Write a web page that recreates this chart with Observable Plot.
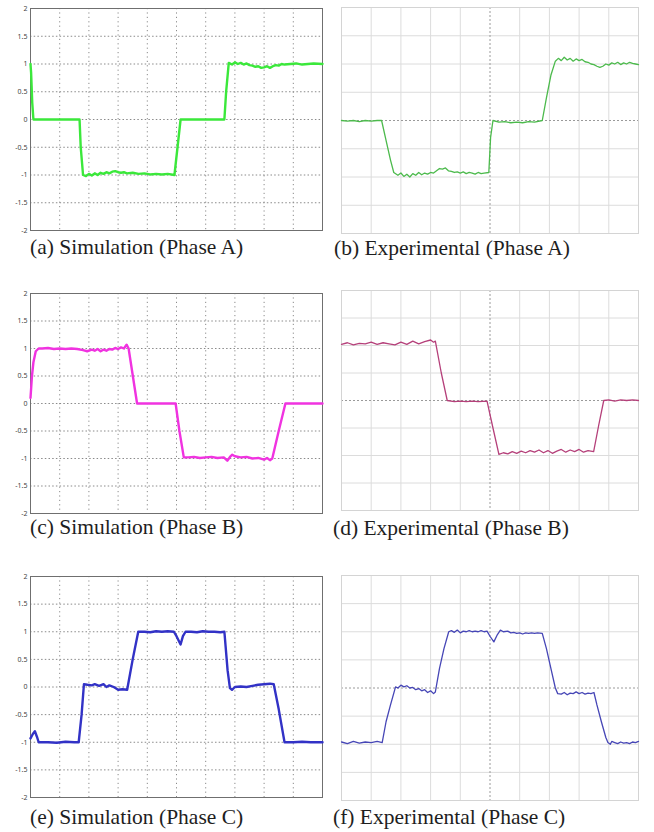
<!DOCTYPE html>
<html>
<head>
<meta charset="utf-8">
<script src="https://cdn.jsdelivr.net/npm/d3@7"></script>
<script src="https://cdn.jsdelivr.net/npm/@observablehq/plot@0.6"></script>
<style>
  html, body { margin: 0; padding: 0; background: #fff; }
  #root { position: relative; width: 654px; height: 832px; background: #fff; overflow: hidden; }
  .panel { position: absolute; }
  .panel svg { display: block; background: transparent; }
  .cap { position: absolute; font-family: "Liberation Serif", "Times New Roman", serif; font-size: 21.5px; color: #1e1e1e; white-space: nowrap; line-height: 1; }
</style>
</head>
<body>
<div id="root"></div>
<script>
// ---------- data ----------
const captions = ["(a) Simulation (Phase A)", "(b) Experimental (Phase A)", "(c) Simulation (Phase B)", "(d) Experimental (Phase B)", "(e) Simulation (Phase C)", "(f) Experimental (Phase C)"];
const yTickValues = [2, 1.5, 1, 0.5, 0, -0.5, -1, -1.5, -2];
const yTickLabels = ["2", "1.5", "1", "0.5", "0", "-0.5", "-1", "-1.5", "-2"];
const xGridValues = [1, 2, 3, 4, 5, 6, 7, 8, 9];
const yGridValues = [1.5, 1, 0.5, 0, -0.5, -1, -1.5];

const simA_t = [0, 0.02, 0.06, 0.1, 0.15, 1.68, 1.72, 1.8, 1.9, 2.0, 2.1, 2.2, 2.3, 2.4, 2.5, 2.6, 2.7, 2.8, 2.9, 3.0, 3.1, 3.2, 3.3, 3.5, 3.7, 3.9, 4.1, 4.3, 4.5, 4.7, 4.93, 5.14, 6.64, 6.7, 6.79, 6.9, 7.0, 7.1, 7.2, 7.3, 7.4, 7.5, 7.6, 7.7, 7.8, 7.9, 8.0, 8.1, 8.2, 8.3, 8.4, 8.5, 8.6, 8.7, 8.9, 9.1, 9.3, 9.5, 9.7, 10];
const simA_v = [1.0, 0.85, 0.3, 0.0, 0.0, 0.0, -0.5, -1.0, -1.02, -0.98, -1.01, -0.97, -1.0, -0.96, -0.98, -0.95, -0.97, -0.94, -0.93, -0.95, -0.96, -0.95, -0.97, -0.96, -0.98, -0.97, -0.99, -0.98, -0.99, -0.98, -1.0, 0.0, 0.0, 0.5, 1.02, 0.99, 1.03, 1.0, 1.02, 0.99, 1.01, 0.98, 0.97, 0.95, 0.96, 0.93, 0.94, 0.96, 0.93, 0.96, 0.98, 0.97, 1.0, 0.99, 1.0, 1.01, 0.99, 1.0, 1.01, 1.0];

const expA_t = [0, 0.2, 0.4, 0.6, 0.8, 1.0, 1.2, 1.35, 1.5, 1.65, 1.76, 1.9, 2.0, 2.1, 2.2, 2.3, 2.4, 2.5, 2.6, 2.7, 2.8, 2.9, 3.0, 3.1, 3.2, 3.3, 3.4, 3.5, 3.6, 3.7, 3.8, 3.9, 4.0, 4.1, 4.2, 4.3, 4.4, 4.5, 4.6, 4.7, 4.8, 4.96, 5.02, 5.1, 5.3, 5.5, 5.7, 5.9, 6.1, 6.3, 6.5, 6.76, 6.9, 7.05, 7.2, 7.3, 7.4, 7.5, 7.6, 7.7, 7.8, 7.9, 8.0, 8.1, 8.2, 8.3, 8.4, 8.5, 8.6, 8.7, 8.8, 8.9, 9.0, 9.1, 9.2, 9.3, 9.4, 9.5, 9.6, 9.7, 9.8, 9.9, 10];
const expA_v = [0.0, -0.01, 0.0, -0.02, 0.0, -0.01, 0.0, 0.0, -0.35, -0.7, -0.92, -0.97, -0.93, -0.99, -0.95, -1.0, -0.94, -0.97, -0.92, -0.96, -0.93, -0.95, -0.92, -0.93, -0.89, -0.85, -0.86, -0.84, -0.89, -0.9, -0.92, -0.91, -0.93, -0.91, -0.94, -0.92, -0.93, -0.95, -0.92, -0.94, -0.93, -0.92, -0.3, 0.0, -0.03, -0.02, -0.04, -0.03, -0.04, -0.02, -0.03, 0.0, 0.4, 0.8, 1.05, 1.1, 1.06, 1.12, 1.07, 1.1, 1.05, 1.09, 1.06, 1.08, 1.04, 1.03, 1.0, 0.99, 0.96, 0.94, 0.96, 1.0, 0.98, 1.02, 1.0, 1.03, 0.99, 1.02, 1.0, 1.03, 1.01, 1.0, 0.99];

const simB_t = [0, 0.05, 0.1, 0.18, 0.28, 0.4, 0.6, 0.8, 1.0, 1.2, 1.4, 1.6, 1.8, 1.94, 2.1, 2.2, 2.3, 2.4, 2.5, 2.6, 2.7, 2.8, 2.9, 3.0, 3.1, 3.2, 3.29, 3.36, 3.65, 4.97, 5.1, 5.25, 5.4, 5.6, 5.8, 6.0, 6.2, 6.4, 6.62, 6.74, 6.85, 6.91, 7.0, 7.2, 7.4, 7.6, 7.8, 8.0, 8.1, 8.2, 8.28, 8.5, 8.73, 10];
const simB_v = [0.1, 0.5, 0.75, 0.95, 1.0, 1.0, 1.01, 0.99, 1.0, 0.99, 1.0, 0.99, 0.97, 0.95, 0.98, 0.96, 0.99, 0.95, 0.98, 0.96, 0.99, 0.98, 1.01, 0.99, 1.02, 1.0, 1.07, 1.0, 0.0, 0.0, -0.5, -0.98, -0.98, -0.97, -0.99, -0.98, -0.97, -0.99, -0.98, -1.04, -0.96, -0.93, -0.96, -0.98, -0.97, -1.0, -0.99, -1.02, -0.99, -1.03, -1.0, -0.5, 0.0, 0.0];

const expB_t = [0, 0.2, 0.4, 0.6, 0.8, 1.0, 1.2, 1.4, 1.6, 1.8, 2.0, 2.2, 2.4, 2.6, 2.8, 3.0, 3.1, 3.16, 3.36, 3.56, 3.8, 4.0, 4.2, 4.4, 4.6, 4.9, 5.1, 5.3, 5.45, 5.6, 5.75, 5.9, 6.05, 6.2, 6.35, 6.5, 6.65, 6.8, 6.95, 7.1, 7.25, 7.4, 7.55, 7.7, 7.85, 8.0, 8.15, 8.3, 8.49, 8.66, 8.83, 9.0, 9.2, 9.4, 9.6, 9.8, 10];
const expB_v = [1.02, 1.05, 1.01, 1.04, 1.03, 1.06, 1.02, 1.05, 1.03, 1.01, 1.06, 1.02, 1.08, 1.03, 1.07, 1.1, 1.06, 1.08, 0.5, 0.0, -0.02, -0.01, -0.02, -0.01, -0.02, -0.01, -0.5, -0.98, -0.95, -0.97, -0.93, -0.96, -0.92, -0.95, -0.91, -0.94, -0.9, -0.95, -0.91, -0.96, -0.92, -0.89, -0.94, -0.9, -0.93, -0.89, -0.94, -0.91, -0.93, -0.45, 0.0, 0.01, -0.01, 0.01, 0.0, 0.01, 0.0];

const simC_t = [0, 0.08, 0.15, 0.22, 0.28, 0.6, 0.9, 1.2, 1.5, 1.65, 1.75, 1.83, 1.95, 2.1, 2.2, 2.35, 2.5, 2.6, 2.7, 2.85, 3.0, 3.15, 3.31, 3.5, 3.69, 3.9, 4.1, 4.3, 4.5, 4.7, 4.91, 5.0, 5.14, 5.22, 5.31, 5.5, 5.7, 5.9, 6.1, 6.3, 6.5, 6.64, 6.75, 6.83, 6.9, 7.0, 7.2, 7.4, 7.6, 7.8, 8.0, 8.2, 8.33, 8.5, 8.7, 9.0, 9.3, 9.6, 10];
const simC_v = [-0.93, -0.85, -0.8, -0.9, -1.0, -1.0, -1.01, -0.99, -1.0, -1.0, -0.5, 0.05, 0.04, 0.03, 0.05, 0.02, 0.05, 0.0, 0.03, 0.0, -0.05, -0.04, -0.05, 0.5, 1.0, 1.0, 0.99, 1.01, 1.0, 1.01, 1.0, 0.92, 0.77, 0.92, 1.0, 1.0, 0.99, 1.01, 1.0, 1.0, 0.99, 1.0, 0.3, -0.02, -0.05, 0.0, 0.01, 0.0, 0.02, 0.04, 0.05, 0.06, 0.05, -0.4, -1.0, -1.0, -0.99, -1.0, -1.0];

const expC_t = [0, 0.2, 0.4, 0.6, 0.8, 1.0, 1.2, 1.37, 1.5, 1.65, 1.82, 1.9, 2.0, 2.1, 2.2, 2.3, 2.4, 2.5, 2.6, 2.7, 2.8, 2.9, 3.0, 3.1, 3.16, 3.3, 3.45, 3.61, 3.7, 3.8, 3.9, 4.0, 4.1, 4.2, 4.3, 4.4, 4.5, 4.6, 4.7, 4.8, 4.9, 5.0, 5.13, 5.25, 5.35, 5.45, 5.6, 5.7, 5.8, 5.9, 6.0, 6.1, 6.2, 6.3, 6.4, 6.5, 6.6, 6.76, 6.9, 7.05, 7.2, 7.28, 7.4, 7.5, 7.6, 7.7, 7.8, 7.9, 8.0, 8.1, 8.2, 8.3, 8.4, 8.5, 8.6, 8.75, 8.9, 8.97, 9.05, 9.1, 9.2, 9.3, 9.4, 9.5, 9.6, 9.7, 9.8, 9.9, 10];
const expC_v = [-0.96, -0.99, -0.95, -0.98, -0.96, -0.97, -0.95, -0.97, -0.6, -0.3, 0.02, 0.0, 0.05, 0.02, 0.04, 0.0, 0.01, -0.03, -0.01, -0.05, -0.03, -0.08, -0.05, -0.1, -0.07, 0.35, 0.7, 1.0, 1.02, 0.99, 1.03, 0.98, 1.01, 1.0, 1.02, 1.0, 1.01, 1.0, 1.02, 1.0, 1.01, 0.92, 0.82, 0.95, 1.03, 1.0, 1.01, 0.98, 0.99, 0.97, 0.98, 0.96, 0.98, 0.97, 0.98, 0.97, 0.98, 0.97, 0.7, 0.35, 0.0, -0.1, -0.11, -0.08, -0.12, -0.09, -0.1, -0.07, -0.1, -0.08, -0.11, -0.09, -0.1, -0.08, -0.3, -0.6, -0.88, -0.97, -1.0, -0.95, -0.97, -0.99, -0.96, -0.98, -0.97, -0.99, -0.96, -0.97, -0.95];

const colors = { simA: "#3be83b", expA: "#4cba4c", simB: "#f033e0", expB: "#b5407a", simC: "#3232c6", expC: "#4646b6" };

// ---------- layout ----------
const root = document.getElementById("root");
const zip = (t, v) => t.map((d, i) => ({ t: d, v: v[i] }));

function simPlot(data, color, mt, height) {
  return Plot.plot({
    width: 327, height, marginLeft: 30, marginRight: 5, marginTop: mt, marginBottom: 6,
    x: { domain: [0, 10], axis: null },
    y: { domain: [-2, 2], axis: null },
    marks: [
      Plot.gridX(xGridValues, { stroke: "#8a8a8a", strokeOpacity: 1, strokeWidth: 1, strokeDasharray: "1.2,3.2" }),
      Plot.gridY(yGridValues, { stroke: "#8a8a8a", strokeOpacity: 1, strokeWidth: 1, strokeDasharray: "1.5,2.2" }),
      Plot.frame({ stroke: "#6f6f6f", strokeWidth: 1 }),
      Plot.line(data, { x: "t", y: "v", stroke: color, strokeWidth: 2.4, strokeLinejoin: "round" }),
      Plot.axisY(yTickValues, { label: null, tickSize: 0, tickPadding: 3, fontSize: 7, fill: "#444", tickFormat: (d) => yTickLabels[yTickValues.indexOf(d)] })
    ]
  });
}

function expPlot(data, color, mt, height) {
  return Plot.plot({
    width: 327, height, marginLeft: 14, marginRight: 16, marginTop: mt, marginBottom: 6,
    x: { domain: [0, 10], axis: null },
    y: { domain: [-2, 2], axis: null },
    marks: [
      Plot.gridX(xGridValues.filter((d) => d !== 5), { stroke: "#dcdcdc", strokeOpacity: 1, strokeWidth: 1 }),
      Plot.gridY(yGridValues.filter((d) => d !== 0), { stroke: "#dcdcdc", strokeOpacity: 1, strokeWidth: 1 }),
      Plot.gridX([5], { stroke: "#9a9a9a", strokeOpacity: 1, strokeWidth: 1, strokeDasharray: "2,2" }),
      Plot.gridY([0], { stroke: "#9a9a9a", strokeOpacity: 1, strokeWidth: 1, strokeDasharray: "2,2" }),
      Plot.frame({ stroke: "#d4d4d4", strokeWidth: 1 }),
      Plot.line(data, { x: "t", y: "v", stroke: color, strokeWidth: 1.3, strokeLinejoin: "round" })
    ]
  });
}

const panels = [
  { kind: "sim", t: simA_t, v: simA_v, c: colors.simA, left: 0, top: 0, mt: 8, h: 236, capX: 30, capY: 237 },
  { kind: "exp", t: expA_t, v: expA_v, c: colors.expA, left: 327, top: 0, mt: 7, h: 239, capX: 334, capY: 238 },
  { kind: "sim", t: simB_t, v: simB_v, c: colors.simB, left: 0, top: 280, mt: 13, h: 239, capX: 30, capY: 517 },
  { kind: "exp", t: expB_t, v: expB_v, c: colors.expB, left: 327, top: 280, mt: 10, h: 236, capX: 333, capY: 518 },
  { kind: "sim", t: simC_t, v: simC_v, c: colors.simC, left: 0, top: 565, mt: 11, h: 238, capX: 30, capY: 807 },
  { kind: "exp", t: expC_t, v: expC_v, c: colors.expC, left: 327, top: 565, mt: 10, h: 241, capX: 333, capY: 807 }
];

panels.forEach((p, i) => {
  const div = document.createElement("div");
  div.className = "panel";
  div.style.left = p.left + "px";
  div.style.top = p.top + "px";
  const data = zip(p.t, p.v);
  div.appendChild(p.kind === "sim" ? simPlot(data, p.c, p.mt, p.h) : expPlot(data, p.c, p.mt, p.h));
  root.appendChild(div);
  const cap = document.createElement("div");
  cap.className = "cap";
  cap.style.left = p.capX + "px";
  cap.style.top = p.capY + "px";
  cap.textContent = captions[i];
  root.appendChild(cap);
});
</script>
</body>
</html>
